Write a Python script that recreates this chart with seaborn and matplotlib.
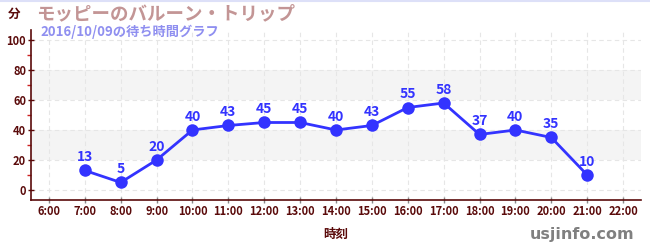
import matplotlib
matplotlib.use("Agg")
import matplotlib.pyplot as plt
import seaborn as sns
import pandas as pd

hours = [7, 8, 9, 10, 11, 12, 13, 14, 15, 16, 17, 18, 19, 20, 21]
waits = [13, 5, 20, 40, 43, 45, 45, 40, 43, 55, 58, 37, 40, 35, 10]
xtick_hours = list(range(6, 23))
xtick_labels = [f"{h}:00" for h in xtick_hours]
yticks = [0, 20, 40, 60, 80, 100]
title = "モッピーのバルーン・トリップ"
subtitle = "2016/10/09の待ち時間グラフ"

sns.set_theme(style="white")
plt.rcParams['font.family'] = ['Noto Sans CJK JP', 'DejaVu Sans']

df = pd.DataFrame({"hour": hours, "wait": waits})

fig = plt.figure(figsize=(6.5, 2.5), dpi=100)
ax = fig.add_axes([31/650, 50/250, 610/650, 170/250])

tick_color = "#5a0a0a"
line_color = "#3333ff"

ax.set_xlim(5.5, 22.5)
ax.set_ylim(-6.7, 106.7)

for lo, hi in [(20, 40), (60, 80)]:
    ax.axhspan(lo, hi, color="#f4f4f4", zorder=0, lw=0)
for y in yticks:
    ax.axhline(y, color="#e6e6e6", lw=0.8, ls=(0, (4, 3)), zorder=0.5)
for h in xtick_hours:
    ax.axvline(h, color="#e6e6e6", lw=0.8, ls=(0, (4, 3)), zorder=0.5)

sns.lineplot(data=df, x="hour", y="wait", ax=ax, color=line_color, lw=2.0,
             marker="o", markersize=9, markeredgewidth=0, zorder=3)

for h, w in zip(hours, waits):
    ax.annotate(str(w), (h, w), xytext=(0, 4.5), textcoords="offset points",
                ha="center", va="bottom", color=line_color, fontsize=10,
                fontweight="bold", zorder=4)

ax.set_xticks(xtick_hours)
ax.set_xticklabels(xtick_labels)
ax.set_yticks(yticks)
ax.set_yticks([10, 30, 50, 70, 90], minor=True)
ax.tick_params(axis="both", which="major", labelsize=8, colors=tick_color,
               length=4, width=1, direction="inout", bottom=True, left=True, pad=1.5)
ax.tick_params(axis="y", which="minor", length=3, color="#cc2222", width=1,
               direction="out", left=True)
for lab in ax.get_xticklabels() + ax.get_yticklabels():
    lab.set_fontweight("bold")
ax.tick_params(axis="x", colors="#888888", labelcolor=tick_color)

for s in ["top", "right"]:
    ax.spines[s].set_visible(False)
for s in ["left", "bottom"]:
    ax.spines[s].set_color(tick_color)
    ax.spines[s].set_linewidth(1.2)

ax.set_xlabel("時刻", color=tick_color, fontsize=9, fontweight="bold", labelpad=7)
ax.set_ylabel("")

fig.text(8/650, 1 - 14/250, "分", color=tick_color, fontsize=9, fontweight="bold",
         ha="left", va="center")
fig.text(36/650, 1 - 14/250, title, color="#c39595", fontsize=13.3, fontweight="bold",
         ha="left", va="center")
fig.text(40/650, 1 - 32/250, subtitle, color="#8f8ff0", fontsize=9.5, fontweight="bold",
         ha="left", va="center")
fig.text(634/650, 1 - 234/250, "usjinfo.com", color="#808080", fontsize=11.5,
         fontweight="bold", ha="right", va="center", family=["DejaVu Sans"])

fig.add_artist(plt.Line2D([0, 1], [1 - 0.5/250, 1 - 0.5/250], color="#dde0f8", lw=1.5))

fig.savefig("out.png", dpi=100)
